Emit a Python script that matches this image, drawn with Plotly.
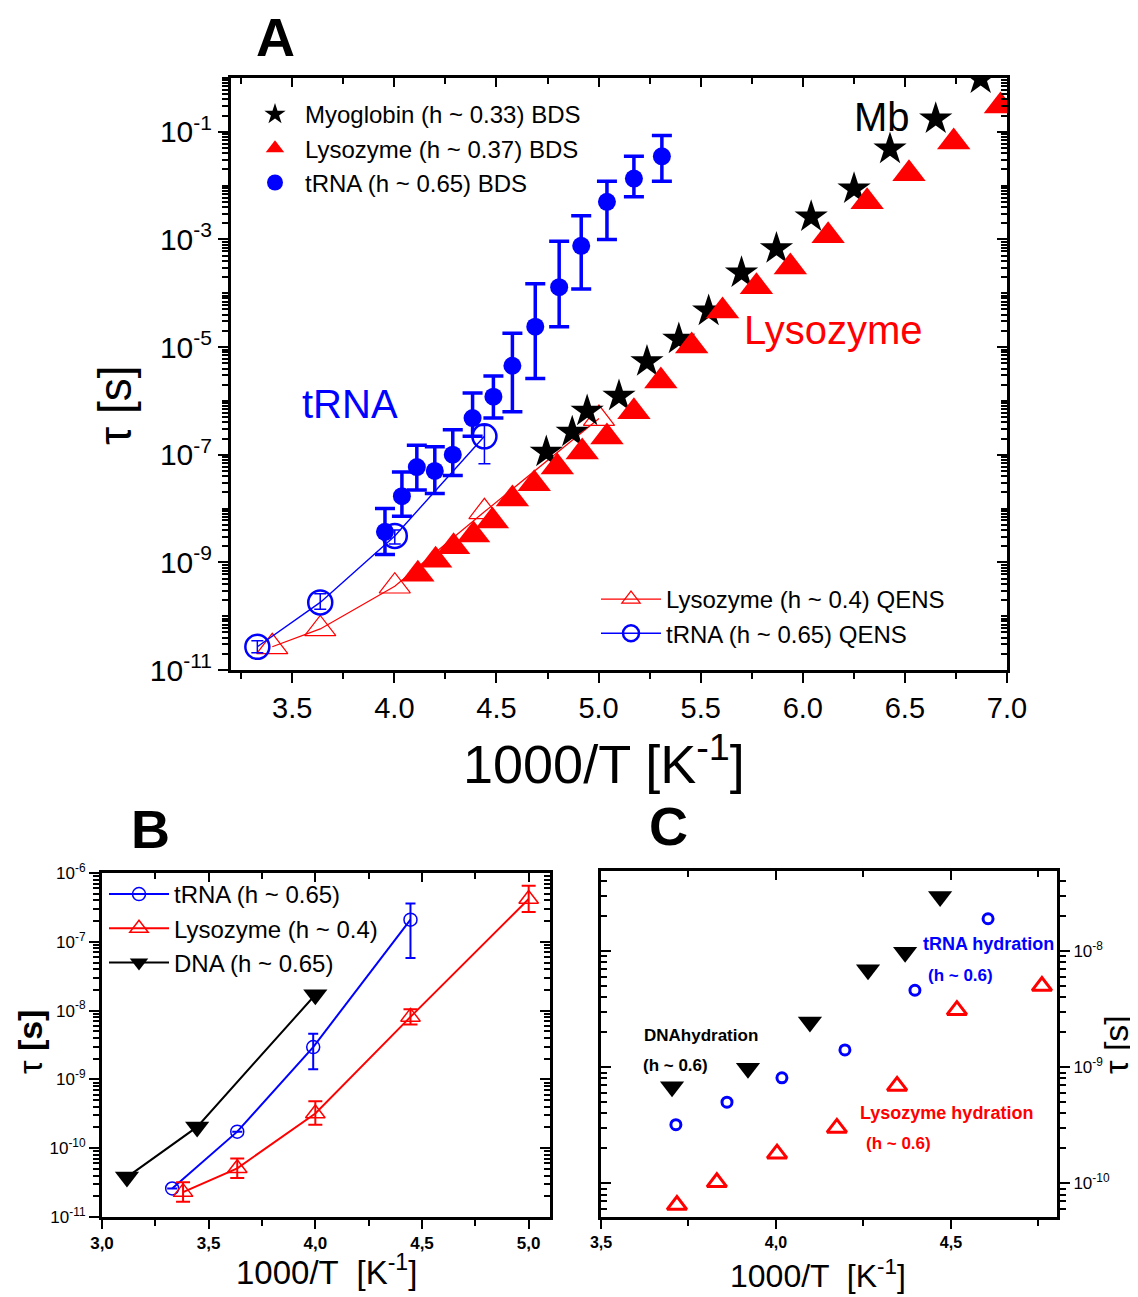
import plotly.graph_objects as go

# The page body adds an 8 px margin; the figure is sized and placed so that
# reference pixel coordinates map onto the screenshot.
OFF = 8
W, H = 1138 - OFF, 1297 - OFF
FONT = "Liberation Sans, Arial, sans-serif"
BLUE, RED, BLACK = "#0000ff", "#ff0000", "#000000"


def px(x):
    return (x - OFF) / W


def py(y):
    return 1 - (y - OFF) / H


# ---------------- Panel A data ----------------
mb_bds_x = [4.744, 4.871, 4.944, 5.10, 5.237, 5.393, 5.539, 5.70, 5.871, 6.041, 6.251, 6.427, 6.651, 6.871]
mb_bds_tau = [1.12e-7, 2.63e-7, 6.46e-7, 1.23e-6, 5.37e-6, 1.41e-5, 4.68e-5, 2.40e-4, 6.76e-4,
              2.63e-3, 8.71e-3, 4.79e-2, 0.174, 0.966]

lys_bds_x = [4.115, 4.202, 4.29, 4.388, 4.48, 4.578, 4.685, 4.798, 4.92, 5.041, 5.173, 5.305, 5.456,
             5.607, 5.773, 5.939, 6.124, 6.315, 6.52, 6.739, 6.968]
lys_bds_tau = [6.03e-10, 1.10e-9, 1.95e-9, 3.24e-9, 5.89e-9, 1.51e-8, 2.88e-8, 5.89e-8, 1.12e-7, 2.14e-7,
               6.31e-7, 2.34e-6, 1.05e-5, 4.68e-5, 1.32e-4, 3.09e-4, 1.17e-3, 5.01e-3, 1.66e-2, 6.46e-2, 0.302]

trna_bds_x = [3.954, 4.037, 4.110, 4.198, 4.286, 4.383, 4.485, 4.578, 4.690, 4.807, 4.915, 5.041, 5.173, 5.310]
trna_bds_tau = [3.7e-9, 1.7e-8, 5.9e-8, 5.0e-8, 1.0e-7, 4.8e-7, 1.2e-6, 4.5e-6, 2.4e-5, 1.3e-4, 7.6e-4,
                5.0e-3, 1.35e-2, 3.5e-2]
trna_bds_hi = [1.0e-8, 4.8e-8, 1.5e-7, 1.4e-7, 2.9e-7, 1.4e-6, 2.9e-6, 1.8e-5, 1.5e-4, 9.3e-4, 2.75e-3,
               1.2e-2, 3.5e-2, 8.5e-2]
trna_bds_lo = [1.4e-9, 7.2e-9, 2.2e-8, 1.9e-8, 4.1e-8, 2.2e-7, 4.8e-7, 6.3e-7, 2.6e-6, 2.4e-5, 1.2e-4,
               1.0e-3, 6.2e-3, 1.2e-2]

lys_qens_x = [3.402, 3.637, 4.002, 4.441, 5.002]
lys_qens_tau = [2.7e-11, 5.8e-11, 3.6e-10, 8.7e-9, 4.7e-7]

trna_qens_x = [3.329, 3.637, 4.002, 4.441]
trna_qens_tau = [2.7e-11, 1.8e-10, 3.1e-9, 2.2e-7]
trna_qens_hi = [3.5e-11, 2.6e-10, 4.0e-9, 3.5e-7]
trna_qens_lo = [2.1e-11, 1.35e-10, 2.2e-9, 6.8e-8]

# ---------------- Panel B data ----------------
b_trna_x = [3.329, 3.634, 3.99, 4.446]
b_trna_tau = [2.6e-11, 1.74e-10, 2.95e-9, 2.1e-7]
b_trna_hi = [2.6e-11, 1.74e-10, 4.6e-9, 3.6e-7]
b_trna_lo = [2.6e-11, 1.74e-10, 1.4e-9, 5.8e-8]

b_lys_x = [3.38, 3.634, 4.0, 4.446, 5.0]
b_lys_tau = [2.3e-11, 5.1e-11, 3.2e-10, 8.1e-9, 4.2e-7]
b_lys_hi = [3.2e-11, 7.1e-11, 4.8e-10, 1.05e-8, 6.5e-7]
b_lys_lo = [1.66e-11, 3.7e-11, 2.2e-10, 6.3e-9, 2.7e-7]

b_dna_x = [3.117, 3.446, 4.0]
b_dna_tau = [3.8e-11, 2.04e-10, 1.7e-8]

# ---------------- Panel C data ----------------
c_dna_x = [3.703, 3.92, 4.097, 4.263, 4.369, 4.469]
c_dna_tau = [6.8e-10, 9.8e-10, 2.45e-9, 6.9e-9, 9.8e-9, 2.95e-8]
c_trna_x = [3.714, 3.86, 4.017, 4.197, 4.397, 4.606]
c_trna_tau = [3.2e-10, 5.0e-10, 8.1e-10, 1.41e-9, 4.6e-9, 1.9e-8]
c_lys_x = [3.717, 3.831, 4.003, 4.174, 4.346, 4.517, 4.76]
c_lys_tau = [6.5e-11, 1.02e-10, 1.8e-10, 3.0e-10, 6.9e-10, 3.1e-9, 5.0e-9]

# tick definitions
a_xticks = [3.5, 4.0, 4.5, 5.0, 5.5, 6.0, 6.5, 7.0]
a_yexp = [-1, -3, -5, -7, -9, -11]
b_xticks = [3.0, 3.5, 4.0, 4.5, 5.0]
b_yexp = [-6, -7, -8, -9, -10, -11]
c_xticks = [3.5, 4.0, 4.5]
c_yexp = [-8, -9, -10]


def err_plus(v, hi):
    return [h - a for a, h in zip(v, hi)]


def err_minus(v, lo):
    return [a - l for a, l in zip(v, lo)]


def log_minor(e0, e1, skip=()):
    vals = []
    for k in range(e0, e1 + 1):
        for m in range(1, 10):
            if m == 1 and k in skip:
                continue
            vals.append(m * 10.0 ** k)
    return vals


fig = go.Figure()

# ---- Panel A ----
fig.add_trace(go.Scatter(x=lys_qens_x, y=lys_qens_tau, mode="lines+markers", name="Lysozyme (h ~ 0.4) QENS",
                         line=dict(color=RED, width=1.2),
                         marker=dict(symbol="triangle-up-open", size=27, color=RED, line=dict(width=1.2)),
                         legend="legend2", xaxis="x", yaxis="y"))
fig.add_trace(go.Scatter(x=trna_qens_x, y=trna_qens_tau, mode="lines+markers", name="tRNA (h ~ 0.65) QENS",
                         line=dict(color=BLUE, width=1.4),
                         marker=dict(symbol="circle-open", size=24, color=BLUE, line=dict(width=2.5)),
                         error_y=dict(type="data", symmetric=False, array=err_plus(trna_qens_tau, trna_qens_hi),
                                      arrayminus=err_minus(trna_qens_tau, trna_qens_lo), color=BLUE,
                                      thickness=1.5, width=6),
                         legend="legend2", xaxis="x", yaxis="y"))
fig.add_trace(go.Scatter(x=mb_bds_x, y=mb_bds_tau, mode="markers", name="Myoglobin (h ~ 0.33) BDS",
                         marker=dict(symbol="star", size=25, color=BLACK, line=dict(width=0)),
                         legend="legend", xaxis="x", yaxis="y"))
fig.add_trace(go.Scatter(x=lys_bds_x, y=lys_bds_tau, mode="markers", name="Lysozyme (h ~ 0.37) BDS",
                         marker=dict(symbol="triangle-up", size=29, color=RED, line=dict(width=0)),
                         legend="legend", xaxis="x", yaxis="y"))
fig.add_trace(go.Scatter(x=trna_bds_x, y=trna_bds_tau, mode="markers", name="tRNA (h ~ 0.65) BDS",
                         marker=dict(symbol="circle", size=18, color=BLUE, line=dict(width=0)),
                         error_y=dict(type="data", symmetric=False, array=err_plus(trna_bds_tau, trna_bds_hi),
                                      arrayminus=err_minus(trna_bds_tau, trna_bds_lo), color=BLUE,
                                      thickness=3.5, width=10),
                         legend="legend", xaxis="x", yaxis="y"))

# ---- Panel B ----
fig.add_trace(go.Scatter(x=b_trna_x, y=b_trna_tau, mode="lines+markers", name="tRNA (h ~ 0.65)",
                         line=dict(color=BLUE, width=2),
                         marker=dict(symbol="circle-open", size=13, color=BLUE, line=dict(width=1.5)),
                         error_y=dict(type="data", symmetric=False, array=err_plus(b_trna_tau, b_trna_hi),
                                      arrayminus=err_minus(b_trna_tau, b_trna_lo), color=BLUE,
                                      thickness=2, width=5),
                         legend="legend3", xaxis="x2", yaxis="y2"))
fig.add_trace(go.Scatter(x=b_lys_x, y=b_lys_tau, mode="lines+markers", name="Lysozyme (h ~ 0.4)",
                         line=dict(color=RED, width=2),
                         marker=dict(symbol="triangle-up-open", size=17, color=RED, line=dict(width=1.5)),
                         error_y=dict(type="data", symmetric=False, array=err_plus(b_lys_tau, b_lys_hi),
                                      arrayminus=err_minus(b_lys_tau, b_lys_lo), color=RED,
                                      thickness=2, width=7),
                         legend="legend3", xaxis="x2", yaxis="y2"))
fig.add_trace(go.Scatter(x=b_dna_x, y=b_dna_tau, mode="lines+markers", name="DNA (h ~ 0.65)",
                         line=dict(color=BLACK, width=2),
                         marker=dict(symbol="triangle-down", size=21, color=BLACK, line=dict(width=0)),
                         legend="legend3", xaxis="x2", yaxis="y2"))

# ---- Panel C ----
fig.add_trace(go.Scatter(x=c_dna_x, y=c_dna_tau, mode="markers", name="DNA hydration", showlegend=False,
                         marker=dict(symbol="triangle-down", size=21, color=BLACK, line=dict(width=0)),
                         xaxis="x3", yaxis="y3"))
fig.add_trace(go.Scatter(x=c_trna_x, y=c_trna_tau, mode="markers", name="tRNA hydration", showlegend=False,
                         marker=dict(symbol="circle-open", size=10, color=BLUE, line=dict(width=3)),
                         xaxis="x3", yaxis="y3"))
fig.add_trace(go.Scatter(x=c_lys_x, y=c_lys_tau, mode="markers", name="Lysozyme hydration", showlegend=False,
                         marker=dict(symbol="triangle-up-open", size=17, color=RED, line=dict(width=3)),
                         xaxis="x3", yaxis="y3"))

# dummy (empty) traces to activate the mirror axes
for xa, ya in (("x4", "y4"), ("x5", "y5"), ("x6", "y6")):
    fig.add_trace(go.Scatter(x=[], y=[], xaxis=xa, yaxis=ya, showlegend=False, hoverinfo="skip"))


def lin_axis(rng, ticks, labels, side, inside, show_labels, fsize, minor_d, bold=False, **kw):
    d = dict(range=rng, tickmode="array", tickvals=ticks, ticktext=labels,
             ticks="inside" if inside else "outside", ticklen=9, tickwidth=2, tickcolor=BLACK,
             minor=dict(dtick=minor_d, tick0=ticks[0], ticks="inside" if inside else "outside",
                        ticklen=6, tickwidth=2, tickcolor=BLACK),
             showline=True, linewidth=3, linecolor=BLACK, mirror=False, showgrid=False, zeroline=False,
             showticklabels=show_labels, side=side, automargin=False,
             tickfont=dict(family=FONT, size=fsize, color=BLACK, weight="bold" if bold else "normal"))
    d.update(kw)
    return d


def log_axis(rng, exps, side, inside, show_labels, fsize, e0, e1, **kw):
    # labelled decades are major ticks; all other decades and sub-decades are minor ticks
    d = dict(type="log", range=rng, tickmode="array", tickvals=[10.0 ** e for e in exps],
             ticktext=["10<sup>%d</sup>" % e for e in exps],
             ticks="inside" if inside else "outside", ticklen=10, tickwidth=2, tickcolor=BLACK,
             minor=dict(tickmode="array", tickvals=log_minor(e0, e1, skip=exps),
                        ticks="inside" if inside else "outside", ticklen=6, tickwidth=1.5, tickcolor=BLACK),
             showline=True, linewidth=3, linecolor=BLACK, mirror=False, showgrid=False, zeroline=False,
             showticklabels=show_labels, side=side, automargin=False,
             tickfont=dict(family=FONT, size=fsize, color=BLACK))
    d.update(kw)
    return d


a_xlab = ["%.1f" % v for v in a_xticks]
b_xlab = [("%.1f" % v).replace(".", ",") for v in b_xticks]
c_xlab = [("%.1f" % v).replace(".", ",") for v in c_xticks]

A_X = [3.2, 7.0]
A_Y = [-11, 0]
B_X = [3.0, 5.1]
B_Y = [-11, -6]
C_X = [3.5, 4.803]
C_Y = [-10.29, -7.31]

fig.update_layout(
    width=W, height=H, autosize=False,
    margin=dict(l=0, r=0, t=0, b=0, pad=0, autoexpand=False),
    paper_bgcolor="white", plot_bgcolor="rgba(0,0,0,0)",
    font=dict(family=FONT, color=BLACK),
    showlegend=True,
    # Panel A
    xaxis=lin_axis(A_X, a_xticks, a_xlab, "bottom", False, True, 29, 0.25,
                   domain=[px(231), px(1007)], anchor="y", ticklen=10),
    yaxis=log_axis(A_Y, a_yexp, "left", False, True, 30, -11, 0,
                   domain=[py(670), py(78)], anchor="x"),
    xaxis4=lin_axis(A_X, a_xticks, a_xlab, "top", True, False, 29, 0.25,
                    overlaying="x", anchor="y4"),
    yaxis4=log_axis(A_Y, a_yexp, "right", True, False, 30, -11, 0,
                    overlaying="y", anchor="x4"),
    # Panel B
    xaxis2=lin_axis(B_X, b_xticks, b_xlab, "bottom", False, True, 17, 0.25, bold=True,
                    domain=[px(102), px(550)], anchor="y2"),
    yaxis2=log_axis(B_Y, b_yexp, "left", False, True, 17, -11, -6,
                    domain=[py(1217), py(873)], anchor="x2"),
    xaxis5=lin_axis(B_X, b_xticks, b_xlab, "top", True, False, 17, 0.25,
                    overlaying="x2", anchor="y5"),
    yaxis5=log_axis(B_Y, b_yexp, "right", True, False, 17, -11, -6,
                    overlaying="y2", anchor="x5"),
    # Panel C
    xaxis3=lin_axis(C_X, c_xticks, c_xlab, "bottom", False, True, 16, 0.25, bold=True,
                    domain=[px(601), px(1057)], anchor="y3"),
    yaxis3=log_axis(C_Y, c_yexp, "right", False, True, 17, -11, -7,
                    domain=[py(1217), py(871)], anchor="x3"),
    xaxis6=lin_axis(C_X, c_xticks, c_xlab, "top", True, False, 16, 0.25,
                    overlaying="x3", anchor="y6"),
    yaxis6=log_axis(C_Y, c_yexp, "left", True, False, 17, -11, -7,
                    overlaying="y3", anchor="x6"),
    legend=dict(x=px(245), y=py(92), xanchor="left", yanchor="top", bgcolor="rgba(0,0,0,0)",
                font=dict(family=FONT, size=24, color=BLACK), tracegroupgap=0, itemwidth=50),
    legend2=dict(x=px(596), y=py(577), xanchor="left", yanchor="top", bgcolor="rgba(0,0,0,0)",
                 font=dict(family=FONT, size=24, color=BLACK), tracegroupgap=0, itemwidth=60),
    legend3=dict(x=px(104), y=py(872), xanchor="left", yanchor="top", bgcolor="rgba(0,0,0,0)",
                 font=dict(family=FONT, size=24, color=BLACK), tracegroupgap=0, itemwidth=60),
)

ann = [
    # panel letters
    dict(text="<b>A</b>", x=px(275), y=py(37), size=54, color=BLACK),
    dict(text="<b>B</b>", x=px(150), y=py(829), size=54, color=BLACK),
    dict(text="<b>C</b>", x=px(668), y=py(826), size=54, color=BLACK),
    # panel A labels
    dict(text="Mb", x=px(882), y=py(117), size=40, color=BLACK),
    dict(text="Lysozyme", x=px(833), y=py(330), size=40, color=RED),
    dict(text="tRNA", x=px(350), y=py(404), size=40, color=BLUE),
    dict(text="1000/T [K<sup>-1</sup>]", x=px(604), y=py(760), size=54, color=BLACK),
    dict(text="τ [s]", x=px(115), y=py(405), size=46, color=BLACK, angle=-90),
    # panel B labels
    dict(text="1000/T  [K<sup>-1</sup>]", x=px(326), y=py(1270), size=33, color=BLACK),
    dict(text="τ <b>[s]</b>", x=px(30), y=py(1042), size=34, color=BLACK, angle=-90),
    # panel C labels
    dict(text="1000/T  [K<sup>-1</sup>]", x=px(818), y=py(1274), size=32, color=BLACK),
    dict(text="τ [s]", x=px(1116), y=py(1045), size=34, color=BLACK, angle=-90),
    dict(text="<b>DNAhydration</b>", x=px(701), y=py(1035), size=17, color=BLACK),
    dict(text="<b>(h ~ 0.6)</b>", x=px(675), y=py(1065), size=17, color=BLACK),
    dict(text="<b>tRNA hydration</b>", x=px(988), y=py(944), size=18, color=BLUE),
    dict(text="<b>(h ~ 0.6)</b>", x=px(960), y=py(975), size=17, color=BLUE),
    dict(text="<b>Lysozyme hydration</b>", x=px(946), y=py(1113), size=18, color=RED),
    dict(text="<b>(h ~ 0.6)</b>", x=px(898), y=py(1143), size=17, color=RED),
]
for a in ann:
    fig.add_annotation(text=a["text"], x=a["x"], y=a["y"], xref="paper", yref="paper",
                       xanchor="center", yanchor="middle", showarrow=False,
                       textangle=a.get("angle", 0),
                       font=dict(family=FONT, size=a["size"], color=a["color"]))

fig.write_html("out.html")
